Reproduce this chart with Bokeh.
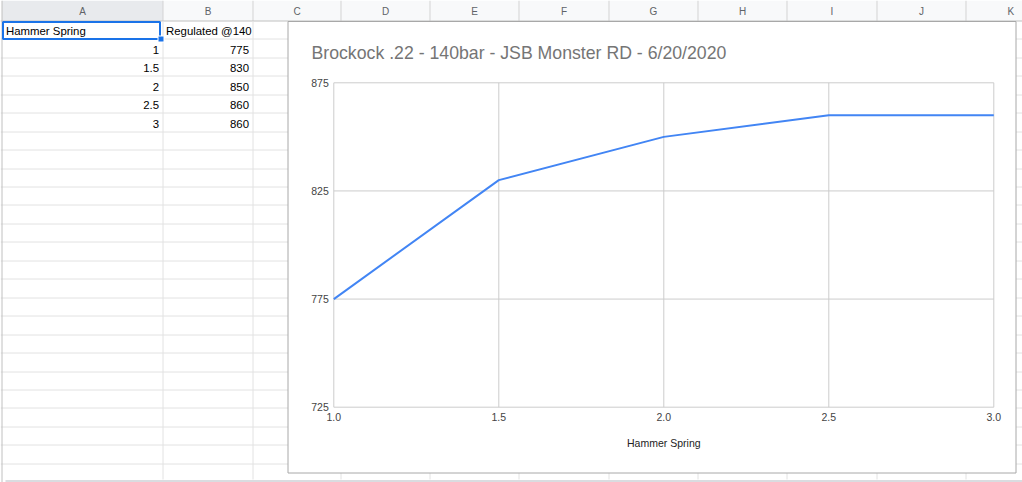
from bokeh.plotting import figure
from bokeh.models import Range1d, LinearAxis, FixedTicker, PrintfTickFormatter, BasicTickFormatter
from bokeh.core.properties import value
from bokeh.embed import file_html
from bokeh.resources import INLINE

# ---------------- data ----------------
column_letters = ["A", "B", "C", "D", "E", "F", "G", "H", "I", "J", "K"]
col_a_header = "Hammer Spring"
col_b_header = "Regulated @140"
hammer_spring = [1, 1.5, 2, 2.5, 3]
regulated = [775, 830, 850, 860, 860]
chart_title = "Brockock .22 - 140bar - JSB Monster RD - 6/20/2020"
x_axis_title = "Hammer Spring"
x_ticks = [1.0, 1.5, 2.0, 2.5, 3.0]
y_ticks = [725, 775, 825, 875]

# ---------------- layout (screen pixels of the sheet) ----------------
VX0, VX1, VY0, VY1 = 0, 1022, 0, 482
W, H = VX1 - VX0, VY1 - VY0
col_edges = [1.5, 162.5, 252.5, 340.5, 429.5, 518.5, 608.5, 697.5, 786.5, 876.5, 965.5, 1055.0]
HEADER_B = 20.5
ROW1_TOP = 20.5
ROW_H = 18.45
N_ROWS = 25
ROW1_TEXT_MID = 30.9
BOX_L, BOX_R, BOX_T, BOX_B = 287.5, 1015.5, 21.0, 472.5
PX_L, PX_R, PY_T, PY_B = 333.3, 993.3, 82.3, 406.7

FONT = value("Liberation Sans")
GRID = "#e2e2e2"

p = figure(width=W, height=H, x_range=Range1d(VX0, VX1), y_range=Range1d(VY1, VY0),
           x_axis_type=None, y_axis_type=None, toolbar_location=None,
           output_backend="svg", min_border=0, outline_line_color=None,
           background_fill_color="white", border_fill_color="white")

# chart coordinate system mapped onto the plot area of the embedded chart
x_min, x_max = min(x_ticks), max(x_ticks)
y_min, y_max = min(y_ticks), max(y_ticks)
kx = (PX_R - PX_L) / (x_max - x_min)
ky = (PY_B - PY_T) / (y_max - y_min)
p.extra_x_ranges = {"cx": Range1d(x_min - (PX_L - VX0) / kx, x_min + (VX1 - PX_L) / kx)}
p.extra_y_ranges = {"cy": Range1d(y_min - (VY1 - PY_B) / ky, y_max + (PY_T - VY0) / ky)}

# ---------------- spreadsheet ----------------
lefts = col_edges[:-1]
rights = col_edges[1:]
header_fill = ["#e8eaed" if c == "A" else "#f8f9fa" for c in column_letters]
p.quad(left=lefts, right=rights, top=[0] * len(lefts), bottom=[HEADER_B] * len(lefts),
       fill_color=header_fill, line_color=None)
p.segment(x0=col_edges[1:-1], x1=col_edges[1:-1], y0=[0] * (len(col_edges) - 2),
          y1=[HEADER_B] * (len(col_edges) - 2), line_color="#d3d3d3", line_width=1)
p.segment(x0=[0], x1=[1022], y0=[HEADER_B], y1=[HEADER_B], line_color="#c0c0c0", line_width=1)
p.text(x=[(a + b) / 2 for a, b in zip(lefts, rights)], y=[10.5] * len(lefts), text=column_letters,
       text_font=FONT, text_font_size=value("10px"), text_color="#5f6368",
       text_align="center", text_baseline="middle")

# body grid
p.segment(x0=col_edges[1:-1], x1=col_edges[1:-1], y0=[HEADER_B] * (len(col_edges) - 2),
          y1=[479] * (len(col_edges) - 2), line_color=GRID, line_width=1)
row_lines = [round(ROW1_TOP + k * ROW_H - 0.5) + 0.5 for k in range(1, N_ROWS)]
p.segment(x0=[0] * len(row_lines), x1=[1022] * len(row_lines), y0=row_lines, y1=row_lines,
          line_color=GRID, line_width=1)
p.segment(x0=[1.5], x1=[1.5], y0=[0], y1=[482], line_color="#c0c0c0", line_width=1)
p.segment(x0=[5], x1=[1022], y0=[480.5], y1=[480.5], line_color="#dadce0", line_width=2)

# cell texts (vertically centred in their rows)
mids = [ROW1_TEXT_MID + r * ROW_H for r in range(len(hammer_spring) + 1)]
p.text(x=[5.5, 165.5], y=[mids[0]] * 2, text=[col_a_header, col_b_header],
       text_font=FONT, text_font_size=value("11.4px"), text_color="#000000",
       text_align="left", text_baseline="middle")
p.text(x=[158.5] * len(hammer_spring), y=mids[1:], text=[f"{v:g}" for v in hammer_spring],
       text_font=FONT, text_font_size=value("11.4px"), text_color="#000000",
       text_align="right", text_baseline="middle")
p.text(x=[248.5] * len(regulated), y=mids[1:], text=[f"{v:g}" for v in regulated],
       text_font=FONT, text_font_size=value("11.4px"), text_color="#000000",
       text_align="right", text_baseline="middle")

# selected cell A1
p.quad(left=[2.5], right=[159.5], top=[21.5], bottom=[38.5], fill_color=None,
       line_color="#1a73e8", line_width=2)
p.quad(left=[157.5], right=[163.5], top=[35.5], bottom=[41.5], fill_color="#1a73e8",
       line_color="white", line_width=1)

# ---------------- embedded chart ----------------
p.quad(left=[BOX_L], right=[BOX_R], top=[BOX_T], bottom=[BOX_B], fill_color="white",
       line_color="#a8a8a8", line_width=1)
p.text(x=[311], y=[52], text=[chart_title], text_font=FONT, text_font_size=value("17.7px"),
       text_color="#757575", text_align="left", text_baseline="middle")

p.segment(x0=x_ticks, x1=x_ticks, y0=[y_min] * len(x_ticks), y1=[y_max] * len(x_ticks),
          x_range_name="cx", y_range_name="cy", line_color="#cccccc", line_width=1)
p.segment(x0=[x_min] * len(y_ticks), x1=[x_max] * len(y_ticks), y0=y_ticks, y1=y_ticks,
          x_range_name="cx", y_range_name="cy", line_color="#cccccc", line_width=1)

p.line(hammer_spring, regulated, x_range_name="cx", y_range_name="cy",
       line_color="#4285f4", line_width=2)

# axis title, centred under the chart's plot area
p.text(x=[(x_min + x_max) / 2], y=[y_min], text=[x_axis_title], y_offset=36,
       x_range_name="cx", y_range_name="cy",
       text_font=FONT, text_font_size=value("10.5px"), text_color="#222222",
       text_align="center", text_baseline="middle")

xax = LinearAxis(x_range_name="cx", y_range_name="cy", fixed_location=y_min,
                 ticker=FixedTicker(ticks=x_ticks), formatter=PrintfTickFormatter(format="%.1f"),
                 axis_line_color=None, major_tick_line_color=None, minor_tick_line_color=None,
                 major_tick_out=0, major_tick_in=0, major_label_standoff=6,
                 major_label_text_font="Liberation Sans", major_label_text_font_size="10.5px",
                 major_label_text_color="#444444")
p.add_layout(xax, "below")

yax = LinearAxis(x_range_name="cx", y_range_name="cy", fixed_location=x_min,
                 ticker=FixedTicker(ticks=y_ticks), formatter=BasicTickFormatter(),
                 axis_line_color=None, major_tick_line_color=None, minor_tick_line_color=None,
                 major_tick_out=0, major_tick_in=0, major_label_standoff=5,
                 major_label_text_font="Liberation Sans", major_label_text_font_size="10.5px",
                 major_label_text_color="#444444")
p.add_layout(yax, "left")

open("out.html", "w").write(file_html(p, INLINE))
